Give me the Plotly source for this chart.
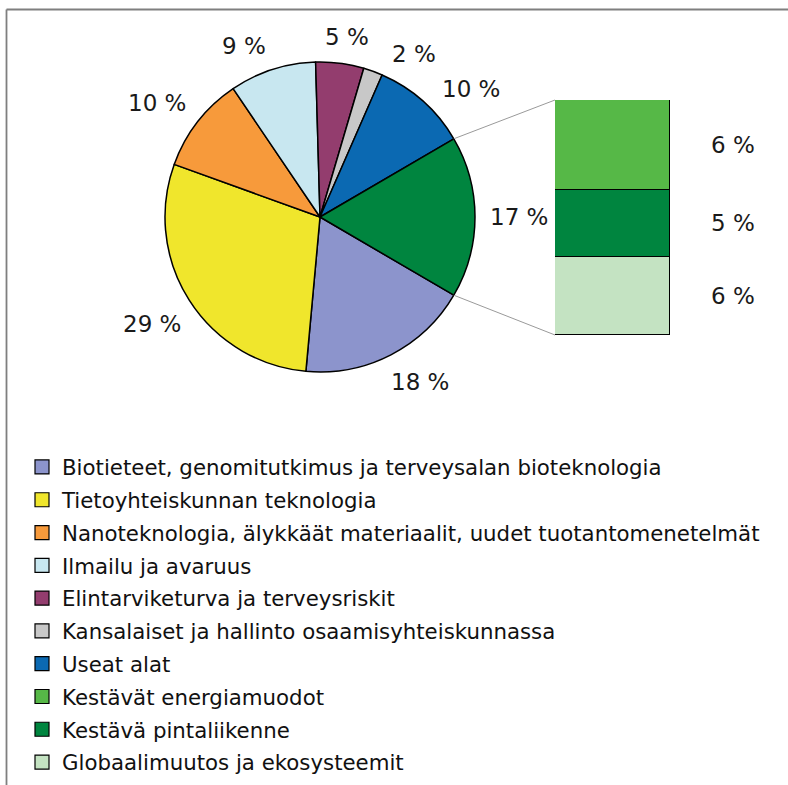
import math
import plotly.graph_objects as go

# ---------------- data ----------------
categories = [
    "Biotieteet, genomitutkimus ja terveysalan bioteknologia",
    "Tietoyhteiskunnan teknologia",
    "Nanoteknologia, älykkäät materiaalit, uudet tuotantomenetelmät",
    "Ilmailu ja avaruus",
    "Elintarviketurva ja terveysriskit",
    "Kansalaiset ja hallinto osaamisyhteiskunnassa",
    "Useat alat",
]
pie_values = [18, 29, 10, 9, 5, 2, 10]
pie_colors = ["#8C94CC", "#F0E62C", "#F79A3B", "#C8E7F0", "#933D6E", "#C8C8C8", "#0B69B2"]

sub_categories = [
    "Kestävät energiamuodot",
    "Kestävä pintaliikenne",
    "Globaalimuutos ja ekosysteemit",
]
sub_values = [6.4, 4.8, 5.6]
sub_colors = ["#56B847", "#00853F", "#C4E3C2"]

other_label = "Kestävä kehitys"
other_color = "#00853F"

# label angle nudges (style only, degrees clockwise), one per pie slice
label_nudge_deg = [-4, 0, -3, -6, 1, 10, 8, 0]

# ---------------- layout constants ----------------
W, H = 788, 785
FONT = "DejaVu Sans, Liberation Sans, Arial, sans-serif"
pie_cx, pie_cy, pie_r = 320, 217, 155           # px (y from top)
bar_x0, bar_x1, bar_y0, bar_y1 = 555, 670, 100, 335  # px (y from top)
LABEL_SIZE = 23
LEGEND_SIZE = 21.3


def px_x(v):
    return v / W


def px_y(v):
    return 1 - v / H


labels = categories + [other_label]
values = pie_values + [sum(sub_values)]
colors = pie_colors + [other_color]
total = sum(values)

# the combined slice is centred at 3 o'clock
other_deg = values[-1] / total * 360
start_deg = 90 + other_deg / 2

fig = go.Figure()

fig.add_trace(go.Pie(
    labels=labels,
    values=values,
    sort=False,
    direction="clockwise",
    rotation=start_deg,
    marker=dict(colors=colors, line=dict(color="#000000", width=1.5)),
    textinfo="none",
    hoverinfo="label+percent",
    showlegend=False,
    domain=dict(x=[px_x(pie_cx - pie_r), px_x(pie_cx + pie_r)],
                y=[px_y(pie_cy + pie_r), px_y(pie_cy - pie_r)]),
))

# stacked bar (bottom to top)
for name, val, col in reversed(list(zip(sub_categories, sub_values, sub_colors))):
    fig.add_trace(go.Bar(
        x=[0], y=[val], name=name, width=1,
        marker=dict(color=col, line=dict(color="#000000", width=1.5)),
        showlegend=False, hoverinfo="name+y",
    ))

# legend entries (one group each so the row spacing can be tuned)
for i, (name, col) in enumerate(zip(categories + sub_categories, pie_colors + sub_colors)):
    fig.add_trace(go.Scatter(
        x=[None], y=[None], mode="markers", name=name, legendgroup=f"g{i}",
        marker=dict(symbol="square", size=14, color=col,
                    line=dict(color="#000000", width=1.2)),
        showlegend=True,
    ))


def text_width(s, size):
    w = 0
    for ch in s:
        if ch == " ":
            w += 0.318
        elif ch == "%":
            w += 0.95
        else:
            w += 0.636
    return w * size


annotations = []
# pie labels, placed outside each slice
acc = 0
for v, nudge in zip(values, label_nudge_deg):
    mid = start_deg + (acc + v / 2) / total * 360 + nudge
    acc += v
    a = math.radians(mid)
    dx, dy = math.sin(a), -math.cos(a)
    txt = f"{round(v / total * 100)} %"
    hw = text_width(txt, LABEL_SIZE) / 2
    hh = LABEL_SIZE * 0.38
    dist = pie_r + 15 + hw * abs(dx) + hh * abs(dy)
    annotations.append(dict(
        x=px_x(pie_cx + dist * dx), y=px_y(pie_cy + dist * dy),
        xref="paper", yref="paper", text=txt, showarrow=False,
        xanchor="center", yanchor="middle",
        font=dict(family=FONT, size=LABEL_SIZE, color="#1a1a1a"),
    ))

# bar labels
sub_total = sum(sub_values)
cum = 0
for val in reversed(sub_values):
    annotations.append(dict(
        x=0.5, y=cum + val / 2, xref="x", yref="y", xshift=63,
        text=f"{round(val)} %", showarrow=False,
        xanchor="center", yanchor="middle",
        font=dict(family=FONT, size=LABEL_SIZE, color="#1a1a1a"),
    ))
    cum += val

# connector lines from pie edge to bar corners
shapes = []
for ang_deg, by in [(90 - other_deg / 2, bar_y0), (90 + other_deg / 2, bar_y1)]:
    a = math.radians(ang_deg)
    px = pie_cx + pie_r * math.sin(a)
    py = pie_cy - pie_r * math.cos(a)
    shapes.append(dict(type="line", xref="paper", yref="paper",
                       x0=px_x(px), y0=px_y(py), x1=px_x(bar_x0), y1=px_y(by),
                       line=dict(color="#9a9a9a", width=1)))

# outer frame (top and left edges, cut by the picture edges)
shapes.append(dict(type="line", xref="paper", yref="paper",
                   x0=px_x(6.5), x1=1, y0=px_y(9.5), y1=px_y(9.5),
                   line=dict(color="#7f7f7f", width=1.8)))
shapes.append(dict(type="line", xref="paper", yref="paper",
                   x0=px_x(6.5), x1=px_x(6.5), y0=0, y1=px_y(9.5),
                   line=dict(color="#7f7f7f", width=1.8)))

fig.update_layout(
    width=W, height=H,
    margin=dict(l=0, r=0, t=0, b=0),
    paper_bgcolor="white", plot_bgcolor="rgba(0,0,0,0)",
    barmode="stack",
    bargap=0,
    xaxis=dict(domain=[px_x(bar_x0), px_x(bar_x1)], range=[-0.5, 0.5],
               visible=False, fixedrange=True),
    yaxis=dict(domain=[px_y(bar_y1), px_y(bar_y0)], range=[0, sub_total],
               visible=False, fixedrange=True),
    legend=dict(x=px_x(22), y=px_y(446.6), xanchor="left", yanchor="top",
                traceorder="grouped", tracegroupgap=2.1,
                bgcolor="rgba(0,0,0,0)",
                font=dict(family=FONT, size=LEGEND_SIZE, color="#111111"),
                itemclick=False, itemdoubleclick=False),
    annotations=annotations,
    shapes=shapes,
    showlegend=True,
)

fig.write_html(
    "out.html",
    config={"displayModeBar": False},
    post_script="document.body.style.margin='0';document.documentElement.style.overflow='hidden';document.body.style.overflow='hidden';",
)
